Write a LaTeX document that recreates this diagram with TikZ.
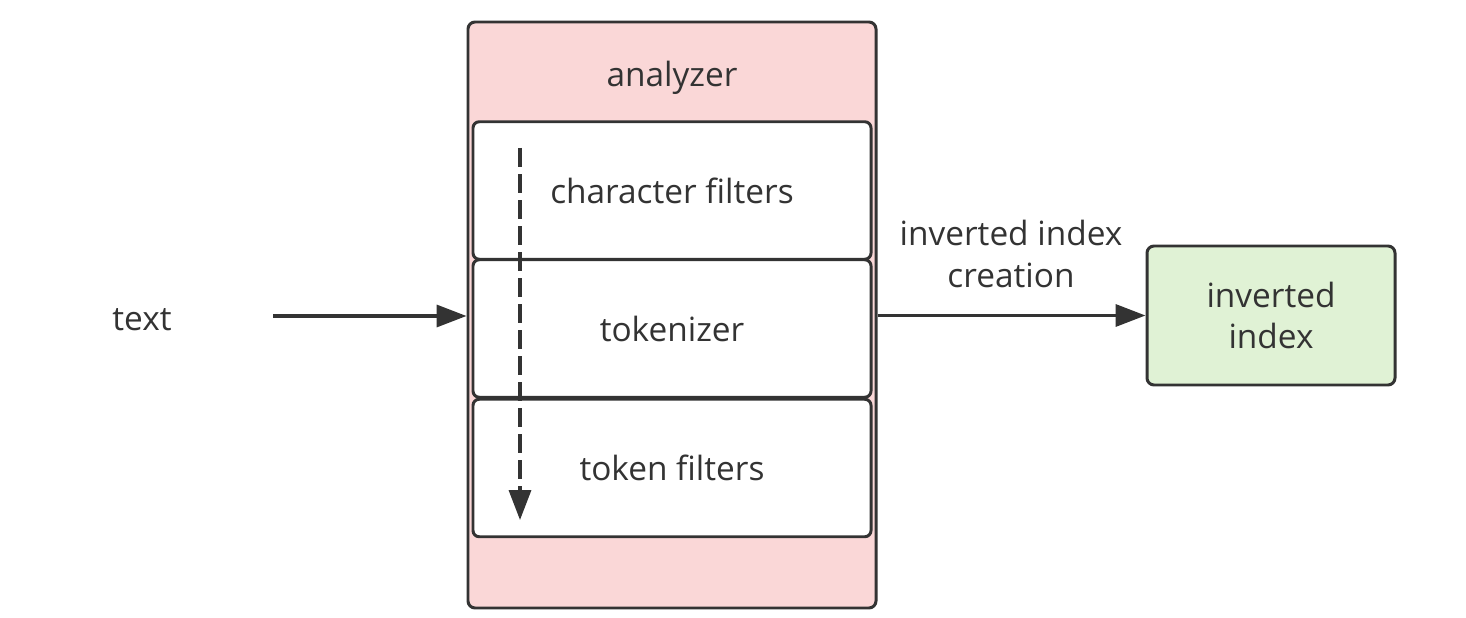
\documentclass[tikz,border=0pt]{standalone}
\usepackage{fontspec}
\setmainfont{Open Sans}
\usetikzlibrary{arrows.meta}
\definecolor{inkgray}{HTML}{333333}
\definecolor{pinkfill}{HTML}{FAD7D7}
\definecolor{greenfill}{HTML}{E0F2D5}
\tikzset{ outer/.style = { rectangle % analyzer frame
        , draw = inkgray
        , line width = 1.7pt
        , rounded corners = 4pt
        , fill = pinkfill
        }
        , stage/.style = { rectangle % filter stage
        , draw = inkgray
        , line width = 1.7pt
        , rounded corners = 3.5pt
        , fill = white
        , minimum width = 7.96cm
        , minimum height = 2.75cm
        }
        , lbl/.style = { rectangle % plain text
        , text = inkgray
        , font = \fontsize{19pt}{23.8pt}\selectfont
        , align = center
        }
        }

\begin{document}
\begin{tikzpicture}[line join=round,
        result_style/.style={rectangle,draw=inkgray,line width=1.7pt,rounded corners=4pt,fill=greenfill,minimum width=4.96cm,minimum height=2.78cm},
        edge_style/.style={draw=inkgray,line width=1.9pt,-{Triangle[length=17pt,width=12.5pt]}},
        flow_style/.style={draw=inkgray,line width=1.9pt,dash pattern=on 10.8pt off 4pt,-{Triangle[length=17pt,width=12.5pt]}}]
        \useasboundingbox (0,0) rectangle (29.32,-12.36);

        \node [outer,minimum width=8.16cm,minimum height=11.72cm](ana) at (13.44,-6.30) {};
        \node [lbl](anatitle) at (13.44,-1.56) {analyzer};
        \node [stage,lbl](chr) at (13.44,-3.81) {character filters};
        \node [stage,lbl](tok) at (13.44,-6.57) {tokenizer};
        \node [stage,lbl](tfl) at (13.44,-9.36) {token filters};
        \node [result_style,lbl](idx) at (25.42,-6.31) {inverted\\index};
        \node [lbl](txt) at (2.84,-6.40) {text};
        \node [lbl](crt) at (20.22,-5.08) {inverted index\\creation};
        \coordinate (txtout)  at (5.46,-6.32);
        \coordinate (flowtop)  at (10.40,-2.96);
        \coordinate (flowbot)  at (10.40,-10.40);

        \draw [edge_style] (txtout) -- (txtout -| ana.west);
        \draw [edge_style] (ana.east |- idx.west) -- (idx.west);
        \draw [flow_style] (flowtop) -- (flowbot);

\end{tikzpicture}
\end{document}
